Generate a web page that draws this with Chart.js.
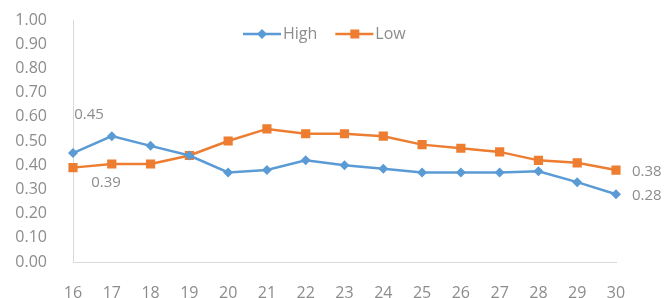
<!DOCTYPE html>
<html>
<head>
<meta charset="utf-8">
<script src="https://cdn.jsdelivr.net/npm/chart.js@4"></script>
<style>
  html, body { margin: 0; padding: 0; background: #fff; }
  canvas { display: block; }
</style>
</head>
<body>
<canvas id="lineChart" width="667" height="298"></canvas>
<script>
const categories = ['16', '17', '18', '19', '20', '21', '22', '23', '24', '25', '26', '27', '28', '29', '30'];
const highValues = [0.45, 0.52, 0.48, 0.44, 0.37, 0.38, 0.42, 0.40, 0.385, 0.37, 0.37, 0.37, 0.375, 0.33, 0.28];
const lowValues = [0.39, 0.405, 0.405, 0.44, 0.50, 0.55, 0.53, 0.53, 0.52, 0.485, 0.47, 0.455, 0.42, 0.41, 0.38];
const yTicks = [0, 0.1, 0.2, 0.3, 0.4, 0.5, 0.6, 0.7, 0.8, 0.9, 1.0];

const blue = '#5b9bd5';
const orange = '#ed7d31';
const textGray = '#8c8c8c';
const axisGray = '#d9d9d9';
const fontFamily = '"Open Sans", "Noto Sans", sans-serif';

// labels shown only on some points, like the original (dataset, index, dx, dy, align)
const pointLabels = [
  { ds: 0, i: 0, dx: 16, dy: -38, align: 'center' },
  { ds: 1, i: 0, dx: 33, dy: 15, align: 'center' },
  { ds: 1, i: 14, dx: 16, dy: 2, align: 'left' },
  { ds: 0, i: 14, dx: 16, dy: 1, align: 'left' }
];

const labelPlugin = {
  id: 'pointLabels',
  afterDatasetsDraw(chart) {
    const ctx = chart.ctx;
    ctx.save();
    ctx.font = '15px ' + fontFamily;
    ctx.fillStyle = textGray;
    ctx.textBaseline = 'middle';
    pointLabels.forEach(l => {
      const pt = chart.getDatasetMeta(l.ds).data[l.i];
      const v = chart.data.datasets[l.ds].data[l.i];
      ctx.textAlign = l.align;
      ctx.fillText(v.toFixed(2), pt.x + l.dx, pt.y + l.dy);
    });
    ctx.restore();
  }
};

// Excel style legend: line with marker in the middle
const legendPlugin = {
  id: 'lineLegend',
  afterDraw(chart) {
    const ctx = chart.ctx;
    const y = chart.chartArea.top + 14;
    let x = 243;
    ctx.save();
    ctx.font = '16px ' + fontFamily;
    ctx.textBaseline = 'middle';
    ctx.textAlign = 'left';
    chart.data.datasets.forEach(ds => {
      ctx.strokeStyle = ds.borderColor;
      ctx.lineWidth = 2.5;
      ctx.beginPath();
      ctx.moveTo(x, y);
      ctx.lineTo(x + 38, y);
      ctx.stroke();
      ctx.fillStyle = ds.borderColor;
      ctx.beginPath();
      if (ds.pointStyle === 'rect') ctx.rect(x + 15, y - 4.5, 9, 9);
      else { ctx.moveTo(x + 19, y - 5); ctx.lineTo(x + 24, y); ctx.lineTo(x + 19, y + 5); ctx.lineTo(x + 14, y); ctx.closePath(); }
      ctx.fill();
      ctx.fillStyle = textGray;
      ctx.fillText(ds.label, x + 40, y);
      x += 40 + ctx.measureText(ds.label).width + 18;
    });
    ctx.restore();
  }
};

const ctx = document.getElementById('lineChart').getContext('2d');
new Chart(ctx, {
  type: 'line',
  data: {
    labels: categories,
    datasets: [
      {
        label: 'High',
        data: highValues,
        borderColor: blue,
        backgroundColor: blue,
        borderWidth: 2.5,
        pointStyle: 'rectRot',
        pointRadius: 5,
        pointBorderWidth: 0,
        tension: 0
      },
      {
        label: 'Low',
        data: lowValues,
        borderColor: orange,
        backgroundColor: orange,
        borderWidth: 2.5,
        pointStyle: 'rect',
        pointRadius: 6.5,
        pointBorderWidth: 0,
        tension: 0
      }
    ]
  },
  options: {
    responsive: false,
    animation: false,
    layout: { padding: { top: 20, right: 51, left: 0, bottom: 0 } },
    plugins: {
      legend: { display: false },
      tooltip: { enabled: false }
    },
    scales: {
      x: {
        offset: false,
        grid: { display: false },
        border: { display: true, color: axisGray, width: 1 },
        ticks: { color: textGray, font: { family: fontFamily, size: 16 }, padding: 14, maxRotation: 0, autoSkip: false },
        afterFit(scale) { scale.height = 36; scale.paddingLeft = 0; scale.paddingRight = 0; }
      },
      y: {
        min: 0,
        max: 1,
        afterBuildTicks(scale) { scale.ticks = yTicks.map(v => ({ value: v })); },
        grid: { display: false },
        border: { display: true, color: axisGray, width: 1 },
        ticks: {
          color: textGray,
          font: { family: fontFamily, size: 16 },
          padding: 18,
          autoSkip: false,
          callback: v => Number(v).toFixed(2)
        },
        afterFit(scale) { scale.width = 73; scale.paddingTop = 0; scale.paddingBottom = 0; }
      }
    }
  },
  plugins: [labelPlugin, legendPlugin]
});
</script>
</body>
</html>
